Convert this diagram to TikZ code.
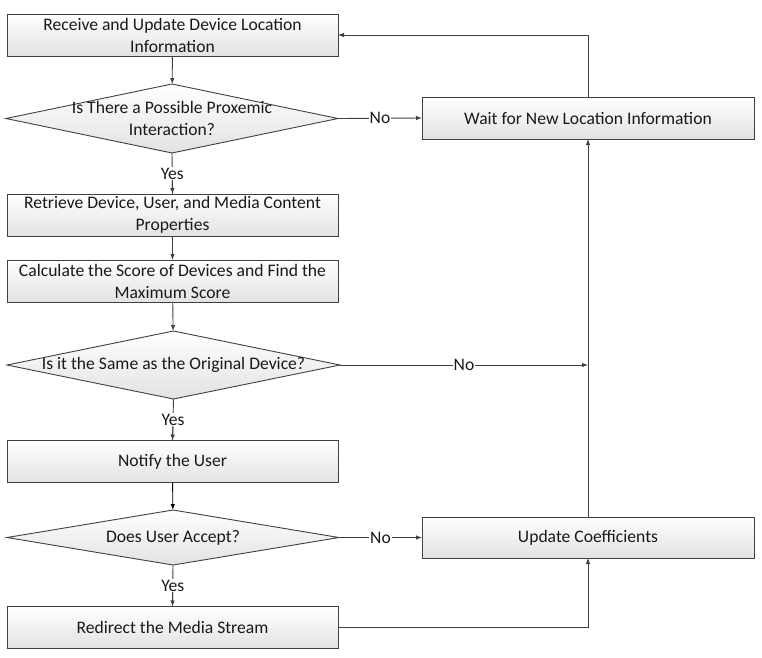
\documentclass[tikz,border=0pt]{standalone}
\usepackage{fontspec}
\setmainfont{Carlito}
\usetikzlibrary{shapes.geometric,arrows.meta}
\definecolor{linec}{HTML}{404040}
\definecolor{boxb}{HTML}{E2E2E2}
\begin{document}
\begin{tikzpicture}[x=1pt,y=-1pt,
  txt/.style={font=\fontsize{17.6}{22}\selectfont, text=black!90},
  box/.style={txt, draw=linec, line width=0.9pt, rectangle, top color=white, bottom color=boxb,
    minimum width=331pt, minimum height=42pt, inner sep=0pt, outer sep=0pt, align=center},
  dia/.style={draw=linec, line width=0.9pt, diamond, top color=white, bottom color=boxb,
    inner sep=0pt, outer sep=0pt},
  lbl/.style={txt, fill=white, inner sep=1pt},
  conn/.style={draw=linec, line width=0.9pt, -{Latex[length=6pt,width=4.5pt]}},
  plain/.style={draw=linec, line width=0.9pt}
]
\useasboundingbox (0,0) rectangle (762,657);
% nodes
\node[box] (recv) at (172.5,35) {Receive and Update Device Location\\Information};
\node[dia, minimum width=332pt, minimum height=69pt] (d1) at (172,118.5) {};
\node[txt, align=center] (d1t) at (d1.center) {Is There a Possible Proxemic\\Interaction?};
\node[box] (retr) at (172.5,215) {Retrieve Device, User, and Media Content\\Properties};
\node[box] (calc) at (172.5,281) {Calculate the Score of Devices and Find the\\Maximum Score};
\node[dia, minimum width=333pt, minimum height=68pt] (d2) at (173.5,365) {};
\node[txt] (d2t) at (d2.center) {Is it the Same as the Original Device?};
\node[box] (notify) at (172.5,461.5) {Notify the User};
\node[dia, minimum width=332pt, minimum height=55pt] (d3) at (173,537.5) {};
\node[txt] (d3t) at (d3.center) {Does User Accept?};
\node[box] (redir) at (172.5,627.5) {Redirect the Media Stream};
\node[box, minimum width=332pt] (wait) at (588,118) {Wait for New Location Information};
\node[box, minimum width=332pt, minimum height=41pt] (upd) at (588,537.5) {Update Coefficients};
\coordinate (j2) at (wait.center |- d2.east);
% connectors
\draw[conn] (recv) -- (d1);
\draw[plain] (d1.south) -- node[lbl] (y1) {Yes} (retr.north);
\draw[conn] (y1.south) -- (retr.north);
\draw[conn] (retr) -- (calc);
\draw[conn] (calc) -- (d2);
\draw[plain] (d2.south) -- node[lbl] (y2) {Yes} (notify.north);
\draw[conn] (y2.south) -- (notify.north);
\draw[conn, draw=black] (notify) -- (d3);
\draw[plain] (d3.south) -- node[lbl] (y3) {Yes} (redir.north);
\draw[conn] (y3.south) -- (redir.north);
\draw[conn] (d1.east) -- node[lbl] (n1) {No} (wait.west);
\draw[conn] (d2.east) -- node[lbl] (n2) {No} (j2);
\draw[conn] (d3.east) -- node[lbl] (n3) {No} (upd.west);
\draw[conn] (redir.east) -| (upd.south);
\draw[conn] (upd.north) -- (wait.south);
\draw[conn] (wait.north) |- (recv.east);
\end{tikzpicture}
\end{document}
